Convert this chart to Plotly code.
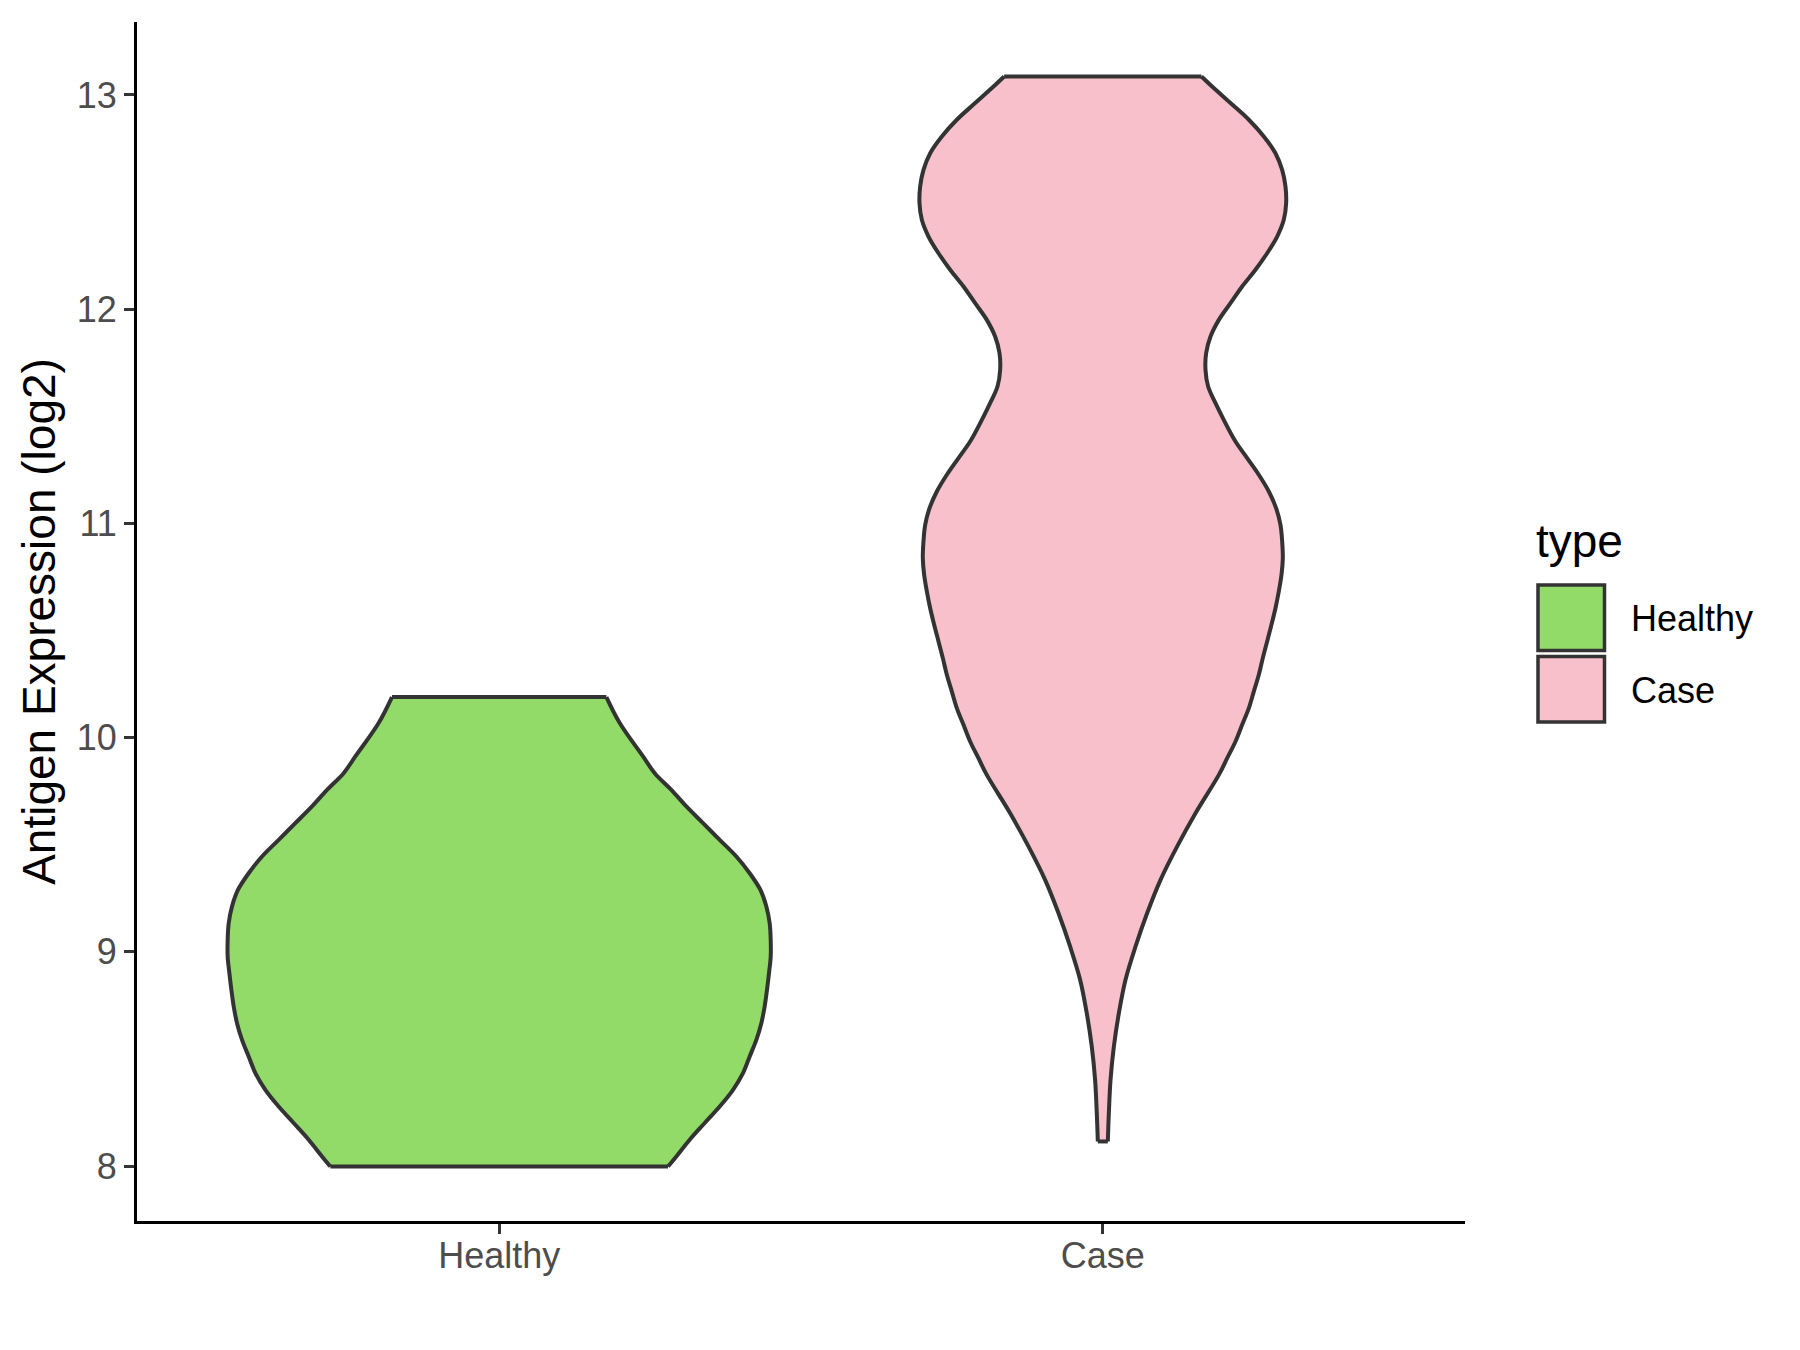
import plotly.graph_objects as go

# ---------------- data ----------------
categories = ["Healthy", "Case"]
fill_colors = ["#93DB69", "#F7C0CB"]

# Healthy violin profile: expression value (log2) and half-width (x-axis units)
healthy_y = [10.189, 10.068, 9.912, 9.834, 9.756, 9.679, 9.601, 9.523, 9.445,
             9.367, 9.290, 9.212, 9.134, 9.056, 8.978, 8.901, 8.823, 8.745,
             8.667, 8.589, 8.512, 8.434, 8.356, 8.278, 8.201, 8.123, 8.045, 7.998]
healthy_hw = [0.1776, 0.1997, 0.2383, 0.2577, 0.2852, 0.3101, 0.3377, 0.3653,
              0.3929, 0.4150, 0.4326, 0.4426, 0.4481, 0.4498, 0.4498, 0.4470,
              0.4437, 0.4398, 0.4343, 0.4260, 0.4150, 0.4039, 0.3874, 0.3653,
              0.3405, 0.3156, 0.2935, 0.2797]

# Case violin profile
case_y = [13.086, 13.039, 12.962, 12.884, 12.806, 12.728, 12.650, 12.573,
          12.495, 12.417, 12.339, 12.261, 12.184, 12.106, 12.028, 11.950,
          11.872, 11.795, 11.717, 11.639, 11.561, 11.483, 11.382, 11.305,
          11.227, 11.149, 11.071, 10.993, 10.916, 10.838, 10.760, 10.682,
          10.604, 10.527, 10.449, 10.371, 10.293, 10.215, 10.138, 10.060,
          9.982, 9.904, 9.826, 9.647, 9.492, 9.336, 9.181, 9.025, 8.870,
          8.714, 8.558, 8.403, 8.247, 8.115]
case_hw = [0.1635, 0.1811, 0.2115, 0.2419, 0.2667, 0.2860, 0.2971, 0.3026,
           0.3037, 0.2998, 0.2888, 0.2722, 0.2529, 0.2308, 0.2115, 0.1922,
           0.1784, 0.1712, 0.1701, 0.1745, 0.1867, 0.2004, 0.2198, 0.2391,
           0.2584, 0.2750, 0.2871, 0.2943, 0.2971, 0.2982, 0.2960, 0.2915,
           0.2860, 0.2794, 0.2722, 0.2650, 0.2584, 0.2501, 0.2419, 0.2308,
           0.2198, 0.2060, 0.1922, 0.1535, 0.1232, 0.0956, 0.0735, 0.0542,
           0.0376, 0.0266, 0.0183, 0.0128, 0.0100, 0.0083]

y_ticks = [8, 9, 10, 11, 12, 13]
y_title = "Antigen Expression (log2)"
legend_title = "type"

profiles = [(healthy_y, healthy_hw), (case_y, case_hw)]

FONT = "Liberation Sans, Arial, Helvetica, sans-serif"
OUTLINE = "#333333"
LW = 4

fig = go.Figure()
# violin sides: left outline, then right outline filled back to the left one
for i, (cat, (ys, hws)) in enumerate(zip(categories, profiles)):
    pos = i + 1
    fig.add_trace(go.Scatter(
        x=[pos - h for h in hws], y=ys, mode="lines",
        line=dict(color=OUTLINE, width=LW, shape="spline"),
        showlegend=False, hoverinfo="skip", name=cat,
    ))
    fig.add_trace(go.Scatter(
        x=[pos + h for h in hws], y=ys, mode="lines",
        fill="tonextx", fillcolor=fill_colors[i],
        line=dict(color=OUTLINE, width=LW, shape="spline"),
        showlegend=False, hoverinfo="skip", name=cat,
    ))
# flat top and bottom edges of each violin
for i, (cat, (ys, hws)) in enumerate(zip(categories, profiles)):
    pos = i + 1
    for k in (0, -1):
        fig.add_trace(go.Scatter(
            x=[pos - hws[k], pos + hws[k]], y=[ys[k], ys[k]], mode="lines",
            line=dict(color=OUTLINE, width=LW),
            showlegend=False, hoverinfo="skip", name=cat,
        ))

all_y = healthy_y + case_y
lo, hi = min(all_y), max(all_y)
pad = (hi - lo) * 0.05

# page body has an 8px margin; figure coordinates = window coordinates - 8
OFF = 8
W, H = 1784, 1334
L, T = 129, 14
PW, PH = 1328, 1199
R = W - L - PW
B = H - T - PH

def px(x):
    return (x - OFF - L) / PW

def py(y):
    return (H - B - (y - OFF)) / PH

fig.update_layout(
    width=W, height=H,
    margin=dict(l=L, r=R, t=T, b=B, autoexpand=False),
    paper_bgcolor="white", plot_bgcolor="white",
    font=dict(family=FONT),
    xaxis=dict(
        range=[0.4, 2.6], tickmode="array",
        tickvals=[i + 1 for i in range(len(categories))], ticktext=categories,
        showgrid=False, zeroline=False,
        showline=True, linecolor="black", linewidth=3,
        ticks="outside", ticklen=10, tickwidth=3, tickcolor=OUTLINE,
        tickfont=dict(size=36, color="#4D4D4D", family=FONT),
    ),
    yaxis=dict(
        range=[lo - pad, hi + pad], tickmode="array", tickvals=y_ticks,
        ticktext=[str(t) for t in y_ticks],
        showgrid=False, zeroline=False,
        showline=True, linecolor="black", linewidth=3,
        ticks="outside", ticklen=10, tickwidth=3, tickcolor=OUTLINE,
        tickfont=dict(size=36, color="#4D4D4D", family=FONT),
        title=dict(text=y_title, font=dict(size=46, color="black", family=FONT), standoff=7),
    ),
)
try:
    fig.update_xaxes(ticklabelstandoff=-9)
except Exception:
    pass

# legend drawn manually (ggplot style), positions in window pixels
fig.add_annotation(x=px(1534), y=py(541), xref="paper", yref="paper",
                   text=legend_title, showarrow=False, xanchor="left", yanchor="middle",
                   font=dict(size=46, color="black", family=FONT))
key_tops = [585, 656.5]
label_centers = [619, 690]
for i, cat in enumerate(categories):
    fig.add_shape(type="rect", xref="paper", yref="paper",
                  x0=px(1538), x1=px(1604.5), y0=py(key_tops[i]), y1=py(key_tops[i] + 65.5),
                  fillcolor=fill_colors[i], line=dict(color=OUTLINE, width=3.5))
    fig.add_annotation(x=px(1629), y=py(label_centers[i]), xref="paper", yref="paper",
                       text=cat, showarrow=False, xanchor="left", yanchor="middle",
                       font=dict(size=36, color="black", family=FONT))

fig.write_html("out.html")
